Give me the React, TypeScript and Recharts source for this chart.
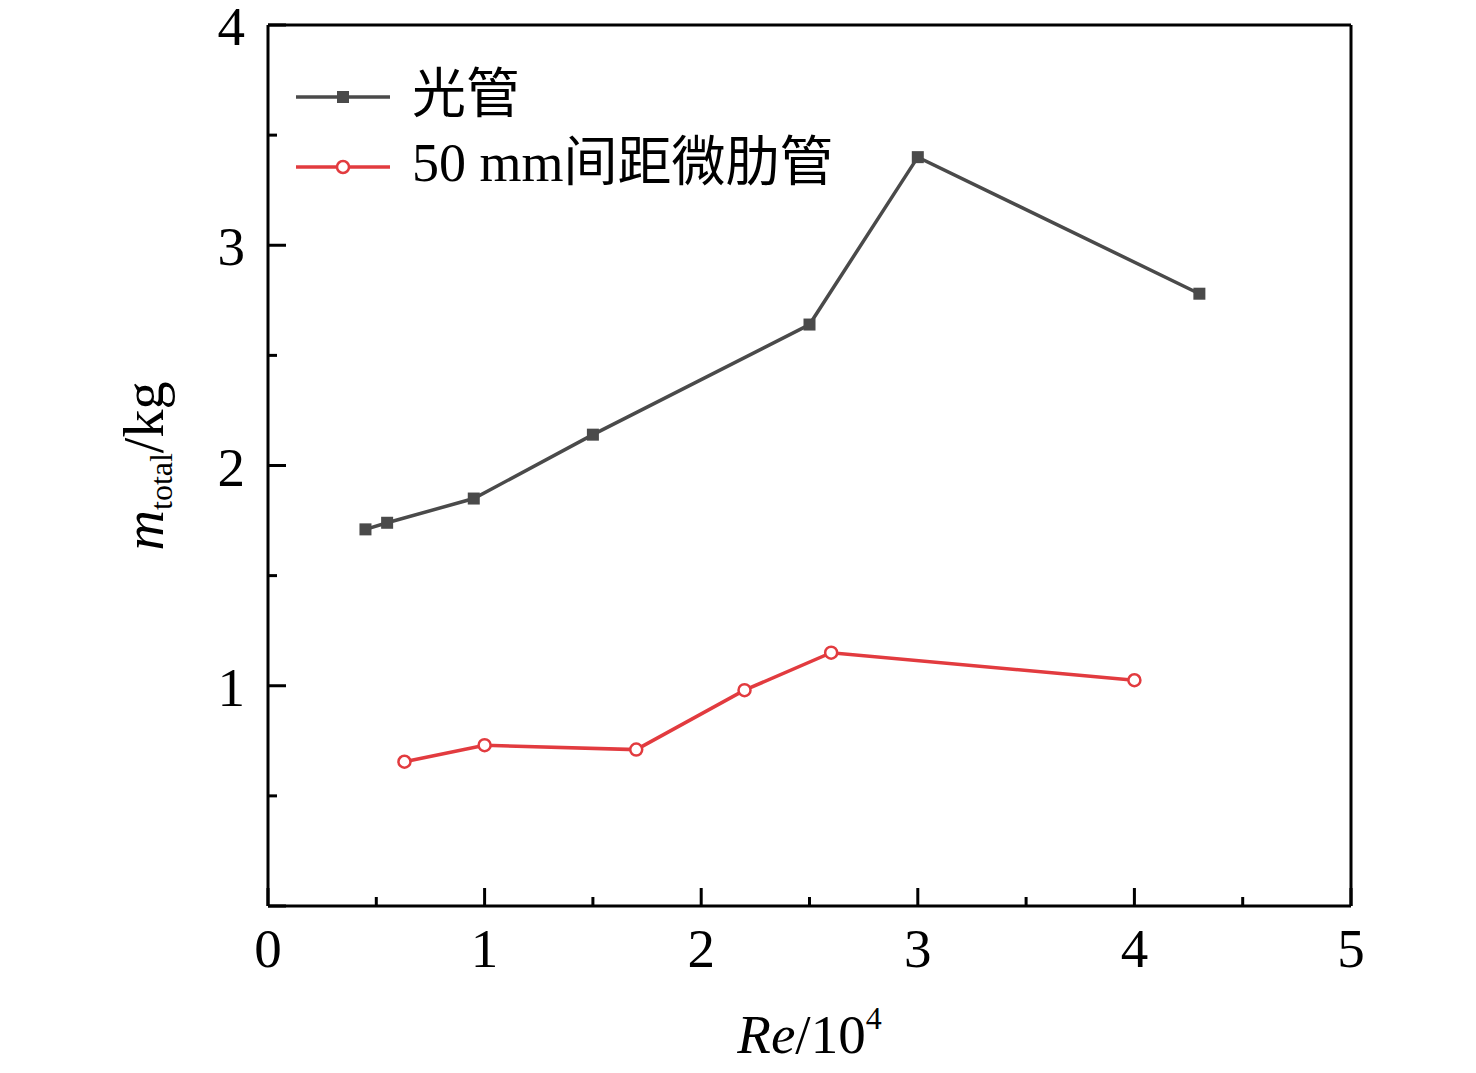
import React from 'react';
import { LineChart, Line, XAxis, YAxis, Label, ReferenceLine } from 'recharts';

// Re / 10^4 and total mass (kg)
const plainRe = [0.45, 0.55, 0.95, 1.5, 2.5, 3.0, 4.3];
const plainMass = [1.71, 1.74, 1.85, 2.14, 2.64, 3.4, 2.78];
const ribRe = [0.63, 1.0, 1.7, 2.2, 2.6, 4.0];
const ribMass = [0.655, 0.73, 0.71, 0.98, 1.15, 1.025];

const xTicks = [0, 0.5, 1, 1.5, 2, 2.5, 3, 3.5, 4, 4.5, 5];
const yTicks = [0, 0.5, 1, 1.5, 2, 2.5, 3, 3.5, 4];

const seriesNames = ['光管', '50 mm间距微肋管'];

const plainData = plainRe.map((x, i) => ({ x, y: plainMass[i] }));
const ribData = ribRe.map((x, i) => ({ x, y: ribMass[i] }));

const FONT = "'Liberation Serif', 'Times New Roman', 'Noto Sans CJK SC', serif";
const GREY = '#4a4a4a';
const RED = '#e23b3f';
const W = 1476;
const H = 1073;

const XTick = ({ x, y, payload }: any) => {
  const v = payload.value;
  const major = Number.isInteger(v);
  return (
    <g>
      <line x1={x} x2={x} y1={y} y2={y - (major ? 18 : 9)} stroke="#000" strokeWidth={3} />
      {major && (
        <text x={x} y={y + 61} textAnchor="middle" fontSize={55} fontFamily={FONT} fill="#000">
          {v}
        </text>
      )}
    </g>
  );
};

const YTick = ({ x, y, payload }: any) => {
  const v = payload.value;
  const major = Number.isInteger(v);
  return (
    <g>
      <line x1={x} x2={x + (major ? 18 : 9)} y1={y} y2={y} stroke="#000" strokeWidth={3} />
      {major && v !== 0 && (
        <text x={x - 23} y={y + 20} textAnchor="end" fontSize={55} fontFamily={FONT} fill="#000">
          {v}
        </text>
      )}
    </g>
  );
};

const SquareDot = ({ cx, cy }: any) => (
  <rect x={cx - 6} y={cy - 6} width={12} height={12} fill={GREY} />
);

const CircleDot = ({ cx, cy }: any) => (
  <circle cx={cx} cy={cy} r={6} fill="#fff" stroke={RED} strokeWidth={2.5} />
);

const XTitle = ({ viewBox }: any) => {
  const cx = viewBox.x + viewBox.width / 2;
  return (
    <text x={cx} y={viewBox.y + 147} textAnchor="middle" fontSize={55} fontFamily={FONT} fill="#000">
      <tspan fontStyle="italic">Re</tspan>
      <tspan>/10</tspan>
      <tspan fontSize={32} dy={-24}>4</tspan>
    </text>
  );
};

const YTitle = ({ viewBox }: any) => {
  const cx = viewBox.x - 45;
  const cy = 466;
  return (
    <text
      x={cx}
      y={cy}
      transform={`rotate(-90, ${cx}, ${cy})`}
      textAnchor="middle"
      fontSize={56}
      fontFamily={FONT}
      fill="#000"
    >
      <tspan fontStyle="italic">m</tspan>
      <tspan fontSize={32} dy={9}>total</tspan>
      <tspan dy={-9}>/kg</tspan>
    </text>
  );
};

const ChartLegend = () => (
  <svg
    width={W}
    height={H}
    style={{ position: 'absolute', left: 0, top: 0, pointerEvents: 'none' }}
  >
    <g>
      <line x1={296} x2={390} y1={97} y2={97} stroke={GREY} strokeWidth={3.5} />
      <rect x={337} y={91} width={12} height={12} fill={GREY} />
      <text x={412} y={113} fontSize={54} fontFamily={FONT} fill="#000">
        {seriesNames[0]}
      </text>
    </g>
    <g>
      <line x1={296} x2={390} y1={167} y2={167} stroke={RED} strokeWidth={3.5} />
      <circle cx={343} cy={167} r={6} fill="#fff" stroke={RED} strokeWidth={2.5} />
      <text x={412} y={181} fontSize={54} fontFamily={FONT} fill="#000">
        {seriesNames[1]}
      </text>
    </g>
  </svg>
);

export default function App() {
  return (
    <div style={{ position: 'relative', width: W, height: H, margin: -8, background: '#fff' }}>
      <LineChart width={W} height={H} margin={{ top: 25, right: 125, bottom: 107, left: 208 }}>
        <XAxis
          type="number"
          dataKey="x"
          domain={[0, 5]}
          ticks={xTicks}
          interval={0}
          height={60}
          tickSize={0}
          tickMargin={0}
          tick={<XTick />}
          axisLine={{ stroke: '#000', strokeWidth: 3 }}
          allowDataOverflow
        >
          <Label content={<XTitle />} />
        </XAxis>
        <YAxis
          type="number"
          domain={[0, 4]}
          ticks={yTicks}
          interval={0}
          width={60}
          tickSize={0}
          tickMargin={0}
          tick={<YTick />}
          axisLine={{ stroke: '#000', strokeWidth: 3 }}
          allowDataOverflow
        >
          <Label content={<YTitle />} />
        </YAxis>
        <ReferenceLine y={4} stroke="#000" strokeWidth={3} />
        <ReferenceLine x={5} stroke="#000" strokeWidth={3} />
        <Line
          data={plainData}
          dataKey="y"
          name={seriesNames[0]}
          stroke={GREY}
          strokeWidth={3.5}
          dot={<SquareDot />}
          activeDot={false}
          isAnimationActive={false}
        />
        <Line
          data={ribData}
          dataKey="y"
          name={seriesNames[1]}
          stroke={RED}
          strokeWidth={3.5}
          dot={<CircleDot />}
          activeDot={false}
          isAnimationActive={false}
        />
      </LineChart>
      <ChartLegend />
    </div>
  );
}
